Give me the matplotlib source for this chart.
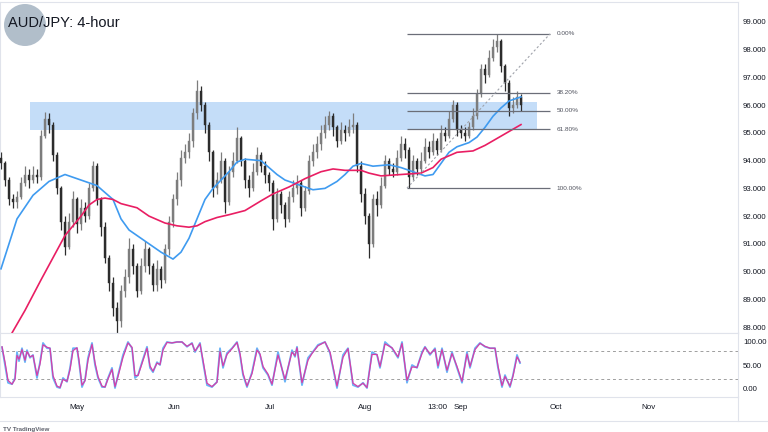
import numpy as np
import matplotlib
matplotlib.use("Agg")
import matplotlib.pyplot as plt
from matplotlib.patches import Rectangle, Ellipse
from matplotlib.lines import Line2D

plt.rcParams['font.family'] = ['Liberation Sans', 'DejaVu Sans']

# ---------------- data ----------------
opens = [94.1, 93.9, 93.3, 92.6, 92.5, 92.7, 93.2, 93.5, 93.3, 93.5,
         93.4, 94.9, 95.5, 95.3, 94.2, 93.0, 91.8, 90.9, 91.8, 92.6,
         91.7, 92.3, 92.0, 93.0, 93.8, 92.6, 91.6, 90.5, 89.6, 88.7,
         88.2, 89.3, 89.8, 90.8, 90.2, 89.3, 90.2, 90.8, 90.2, 89.5,
         90.1, 89.7, 90.8, 91.8, 92.6, 93.3, 94.1, 94.3, 94.7, 95.7,
         96.5, 96.0, 95.3, 94.3, 93.0, 93.3, 94.0, 92.5, 93.6, 94.0,
         94.8, 94.0, 93.3, 93.0, 93.6, 94.2, 93.8, 93.5, 93.2, 91.9,
         92.8, 92.4, 91.9, 92.7, 93.0, 93.2, 92.3, 92.9, 94.0, 94.3,
         94.6, 95.0, 95.3, 95.6, 95.2, 94.7, 95.1, 95.0, 95.2, 95.3,
         93.8, 92.8, 92.0, 91.0, 92.6, 92.4, 93.1, 94.0, 93.7, 93.6,
         94.1, 94.6, 94.4, 93.4, 94.0, 93.7, 94.0, 94.5, 94.3, 94.7,
         94.4, 95.0, 94.9, 95.5, 96.0, 95.1, 95.0, 94.9, 95.2, 95.6,
         96.4, 97.3, 97.1, 97.7, 98.1, 98.3, 97.4, 96.8, 95.9, 96.0,
         96.3]
highs = [94.3, 94.0, 93.4, 92.8, 92.9, 93.4, 93.8, 93.7, 93.8, 93.7,
         95.1, 95.75, 95.7, 95.4, 94.3, 93.1, 92.0, 92.1, 92.9, 92.7,
         92.6, 92.5, 93.2, 94.0, 93.9, 92.7, 91.8, 90.6, 89.8, 88.9,
         89.5, 90.1, 91.2, 91.0, 90.3, 90.5, 91.1, 90.9, 90.3, 90.4,
         90.2, 91.0, 92.0, 92.8, 93.6, 94.4, 94.6, 95.0, 95.9, 96.9,
         96.7, 96.1, 95.4, 94.4, 93.6, 94.3, 94.1, 93.8, 94.3, 95.2,
         94.9, 94.1, 93.5, 93.9, 94.5, 94.3, 94.0, 93.6, 93.3, 93.0,
         92.9, 92.5, 92.9, 93.3, 93.5, 93.3, 93.1, 94.2, 94.6, 94.9,
         95.3, 95.6, 95.8, 95.7, 95.3, 95.4, 95.3, 95.5, 95.7, 95.4,
         94.0, 93.0, 92.1, 92.8, 92.9, 93.4, 94.2, 94.1, 93.9, 94.4,
         94.9, 94.8, 94.5, 94.2, 94.1, 94.3, 94.8, 94.7, 95.0, 94.8,
         95.3, 95.2, 95.8, 96.2, 96.1, 95.3, 95.2, 95.4, 95.9, 96.6,
         97.5, 97.5, 98.0, 98.4, 98.57, 98.4, 97.5, 96.9, 96.3, 96.5,
         96.4]
lows = [93.7, 93.1, 92.4, 92.3, 92.3, 92.6, 93.1, 93.0, 93.2, 93.2,
        93.3, 94.8, 95.0, 94.0, 92.8, 91.5, 90.6, 90.8, 91.6, 91.4,
        91.5, 91.8, 91.9, 92.9, 92.4, 91.3, 90.3, 89.3, 88.4, 87.8,
        88.0, 89.1, 89.6, 89.9, 89.1, 89.2, 90.0, 89.9, 89.3, 89.3,
        89.4, 89.6, 90.6, 91.6, 92.4, 93.1, 93.9, 94.1, 94.5, 95.5,
        95.8, 95.0, 94.0, 92.7, 92.8, 93.2, 92.1, 92.4, 93.4, 93.9,
        93.8, 93.0, 92.7, 92.9, 93.5, 93.6, 93.2, 92.9, 91.5, 91.8,
        92.1, 91.6, 91.8, 92.5, 92.8, 92.0, 92.2, 92.8, 93.8, 94.1,
        94.4, 94.8, 95.1, 94.9, 94.5, 94.6, 94.7, 94.9, 95.0, 93.6,
        92.5, 91.7, 90.5, 90.9, 92.0, 92.3, 93.0, 93.5, 93.4, 93.5,
        94.0, 94.1, 93.01, 93.3, 93.5, 93.6, 93.9, 94.1, 94.2, 94.2,
        94.3, 94.7, 94.8, 95.4, 94.9, 94.8, 94.7, 94.8, 95.1, 95.5,
        96.3, 96.8, 97.0, 97.6, 97.9, 97.2, 96.5, 95.6, 95.7, 95.9,
        95.8]
closes = [93.9, 93.3, 92.6, 92.5, 92.7, 93.2, 93.5, 93.3, 93.5, 93.4,
          94.9, 95.5, 95.3, 94.2, 93.0, 91.8, 90.9, 91.8, 92.6, 91.7,
          92.3, 92.0, 93.0, 93.8, 92.6, 91.6, 90.5, 89.6, 88.7, 88.2,
          89.3, 89.8, 90.8, 90.2, 89.3, 90.2, 90.8, 90.2, 89.5, 90.1,
          89.7, 90.8, 91.8, 92.6, 93.3, 94.1, 94.3, 94.7, 95.7, 96.5,
          96.0, 95.3, 94.3, 93.0, 93.3, 94.0, 92.5, 93.6, 94.0, 94.8,
          94.0, 93.3, 93.0, 93.6, 94.2, 93.8, 93.5, 93.2, 91.9, 92.8,
          92.4, 91.9, 92.7, 93.0, 93.2, 92.3, 92.9, 94.0, 94.3, 94.6,
          95.0, 95.3, 95.6, 95.2, 94.7, 95.1, 95.0, 95.2, 95.3, 93.8,
          92.8, 92.0, 91.0, 92.6, 92.4, 93.1, 94.0, 93.7, 93.6, 94.1,
          94.6, 94.4, 93.4, 94.0, 93.7, 94.0, 94.5, 94.3, 94.7, 94.4,
          95.0, 94.9, 95.5, 96.0, 95.1, 95.0, 94.9, 95.2, 95.6, 96.4,
          97.3, 97.1, 97.7, 98.1, 98.3, 97.4, 96.8, 95.9, 96.0, 96.3,
          96.0]

ma_fast_bar = [0, 4, 8, 12, 16, 20, 24, 28, 30, 32, 36, 40, 43, 45, 47, 49, 51, 53,
               55, 57, 59, 61, 65, 67, 69, 71, 74, 78, 81, 84, 86, 88, 90, 93, 97,
               100, 103, 106, 108, 110, 112, 114, 117, 119, 121, 123, 125, 127, 130]
ma_fast = [90.1, 91.9, 92.75, 93.25, 93.5, 93.3, 93.1, 92.6, 91.9, 91.5, 91.1, 90.7,
           90.45, 90.7, 91.2, 91.9, 92.6, 93.0, 93.3, 93.6, 93.95, 94.05, 94.0, 93.75,
           93.5, 93.3, 93.15, 92.95, 93.0, 93.25, 93.5, 93.8, 93.9, 93.8, 93.85, 93.75,
           93.6, 93.45, 93.5, 93.9, 94.3, 94.5, 94.65, 94.85, 95.2, 95.6, 95.9, 96.15, 96.3]

ma_slow_bar = [2, 6, 10, 13, 16, 20, 22, 24, 26, 28, 30, 34, 37, 41, 44, 47, 49, 51, 54,
               57, 61, 65, 68, 72, 76, 80, 83, 86, 90, 92, 95, 100, 105, 108, 110, 114,
               118, 121, 124, 127, 130]
ma_slow = [87.6, 88.6, 89.7, 90.5, 91.3, 92.0, 92.4, 92.6, 92.65, 92.6, 92.45, 92.3,
           92.0, 91.75, 91.65, 91.6, 91.65, 91.8, 91.95, 92.05, 92.2, 92.55, 92.8, 93.05,
           93.35, 93.6, 93.7, 93.65, 93.65, 93.55, 93.45, 93.5, 93.55, 93.75, 94.05,
           94.3, 94.35, 94.55, 94.8, 95.05, 95.3]

stoch_bar = [0.25, 1, 1.75, 2.75, 3.5, 4, 4.5, 5.25, 6, 6.5,
             7.25, 8, 9, 9.75, 10.5, 11.5, 12.25, 13, 14, 14.75,
             15.5, 16.5, 17.25, 18, 19, 19.5, 20.25, 21, 21.75, 22.75,
             23.5, 24.25, 25.25, 26, 26.75, 27.75, 28.5, 29.25, 30.5, 31.75,
             32.75, 33.5, 34.25, 35.25, 36.5, 37.25, 38, 39, 39.75, 40.5,
             41.5, 42.75, 44, 45.25, 46.5, 47.75, 48.5, 49.75, 50.5, 51.5,
             52.75, 54, 54.75, 55.5, 56.5, 57.75, 59, 59.75, 60.5, 61.5,
             62.75, 64, 64.75, 65.5, 66.75, 67.75, 69.25, 71, 72.75, 73.5,
             74, 75.25, 76.75, 77.75, 79.25, 81, 82.25, 84, 85.5, 86.75,
             88, 89.25, 90.5, 91.5, 92.75, 94, 94.75, 96, 97.75, 99.25,
             100.25, 101.5, 102.75, 104, 105.25, 106, 107.25, 108.5, 109.25, 110.25,
             111.5, 112.75, 114, 115.25, 116.5, 117.25, 118.5, 119.75, 121, 122.25,
             123.5, 124.25, 125.25, 126, 127.25, 128, 129, 129.75]
stoch_k = [87, 50, 13, 10, 23, 77, 58, 85, 56, 81,
           65, 71, 23, 56, 96, 85, 85, 23, 4, 2,
           23, 15, 44, 85, 85, 56, 4, 19, 65, 96,
           50, 23, 4, 4, 23, 44, 2, 29, 71, 98,
           85, 23, 29, 56, 88, 44, 35, 56, 50, 85,
           98, 96, 98, 98, 88, 96, 77, 96, 56, 8,
           4, 15, 85, 44, 75, 85, 98, 71, 29, 4,
           35, 85, 71, 44, 29, 8, 77, 15, 81, 67,
           88, 8, 65, 75, 92, 98, 75, 2, 71, 85,
           8, 4, 13, 2, 77, 71, 44, 98, 85, 65,
           98, 13, 50, 44, 77, 88, 71, 85, 44, 85,
           35, 77, 44, 13, 77, 44, 85, 96, 88, 85,
           85, 44, 4, 29, 4, 29, 71, 54]
stoch_d = [88, 56, 18, 10, 20, 70, 62, 82, 60, 78,
           67, 70, 28, 52, 92, 87, 85, 28, 6, 3,
           20, 16, 40, 80, 86, 60, 8, 17, 60, 93,
           55, 26, 6, 4, 21, 41, 5, 26, 66, 96,
           87, 28, 28, 53, 85, 48, 37, 54, 51, 81,
           97, 96, 98, 98, 89, 95, 79, 94, 60, 12,
           5, 14, 78, 48, 72, 84, 97, 74, 33, 6,
           32, 81, 73, 47, 31, 10, 71, 20, 77, 69,
           86, 13, 60, 74, 90, 98, 77, 6, 66, 84,
           12, 5, 12, 3, 72, 72, 47, 94, 86, 67,
           95, 18, 46, 45, 74, 87, 73, 83, 48, 82,
           39, 74, 47, 16, 73, 47, 82, 95, 89, 85,
           85, 48, 7, 26, 6, 27, 67, 56]

price_ticks = [88, 89, 90, 91, 92, 93, 94, 95, 96, 97, 98, 99]
stoch_ticks = [0, 50, 100]
time_labels = ['May', 'Jun', 'Jul', 'Aug', '13:00', 'Sep', 'Oct', 'Nov']
time_pos = [19, 43.25, 67.25, 91, 109, 115, 138.75, 161.75]

zone_low, zone_high = 95.1, 96.12
zone_start, zone_end = 7.25, 134
fib_low, fib_high = 93.01, 98.57
fib_start, fib_end = 101.5, 137.25
fib_levels = [0.0, 0.382, 0.5, 0.618, 1.0]
fib_labels = ['0.00%', '38.20%', '50.00%', '61.80%', '100.00%']

# ---------------- figure ----------------
W, H = 768, 432
fig = plt.figure(figsize=(W / 100, H / 100), dpi=100)
fig.patch.set_facecolor('white')


def fx(px):
    return px / W


def fy(py):
    return 1 - py / H


grid_c = '#e0e3eb'
text_c = '#131722'

ax = fig.add_axes([0, fy(333), fx(738), (333 - 2) / H])
axs = fig.add_axes([0, fy(397), fx(738), (397 - 333) / H])

for a in (ax, axs):
    a.set_xlim(-0.25, 184.25)
    for s in a.spines.values():
        s.set_color(grid_c)
        s.set_linewidth(0.8)
    a.set_facecolor('white')

ax.set_ylim(87.785, 99.72)
axs.set_ylim(-16.7, 116.7)

# support/resistance zone
ax.add_patch(Rectangle((zone_start, zone_low), zone_end - zone_start,
                       zone_high - zone_low, facecolor='#c4ddf8',
                       edgecolor='none', zorder=0))

# candles
o = np.array(opens); hgh = np.array(highs); lw_ = np.array(lows); c = np.array(closes)
x = np.arange(len(c))
up = c >= o
col = np.where(up, '#7d7d7d', '#2c2c2c')
ax.vlines(x, lw_, hgh, colors=col, linewidth=0.9, zorder=2)
body_h = np.maximum(np.abs(c - o), 0.03)
ax.bar(x, body_h, bottom=np.minimum(o, c), width=0.5, color=col,
       edgecolor=col, linewidth=0.3, zorder=3)

# moving averages
ax.plot(ma_fast_bar, ma_fast, color='#3f9bf0', lw=1.2, zorder=4,
        solid_joinstyle='round')
ax.plot(ma_slow_bar, ma_slow, color='#e91e63', lw=1.2, zorder=4,
        solid_joinstyle='round')

# fibonacci retracement
rng = fib_high - fib_low
for lvl, lab in zip(fib_levels, fib_labels):
    p = fib_high - lvl * rng
    ax.hlines(p, fib_start, fib_end, color='#6b6e78', lw=0.9, zorder=5)
    ax.text(fib_end + 1.6, p, lab, fontsize=4.6, va='center', ha='left',
            color='#50535e', zorder=6)
ax.plot([fib_start, fib_end], [fib_low, fib_high], color='#a0a3ab', lw=0.8,
        ls=(0, (2, 2)), zorder=5)

# price axis
ax.yaxis.tick_right()
ax.set_yticks(price_ticks)
ax.set_yticklabels([f'{v:.3f}' for v in price_ticks])
ax.tick_params(axis='y', length=0, pad=3.6, labelsize=5.6, labelcolor=text_c)
ax.set_xticks([])

# stochastic
axs.axhline(80, color='#9e9e9e', lw=0.7, ls=(0, (3, 3)))
axs.axhline(20, color='#9e9e9e', lw=0.7, ls=(0, (3, 3)))
axs.plot(stoch_bar, stoch_k, color='#6ab4f7', lw=1.3)
axs.plot(stoch_bar, stoch_d, color='#d63ea8', lw=0.9)
axs.yaxis.tick_right()
axs.set_yticks(stoch_ticks)
axs.set_yticklabels([f'{v:.2f}' for v in stoch_ticks])
axs.tick_params(axis='y', length=0, pad=3.6, labelsize=5.6, labelcolor=text_c)
axs.set_xticks(time_pos)
axs.set_xticklabels(time_labels)
axs.tick_params(axis='x', length=0, pad=5.0, labelsize=5.8, labelcolor=text_c)

# frame lines
fig.add_artist(Line2D([0, 1], [fy(421), fy(421)], color=grid_c, lw=0.8))
fig.add_artist(Line2D([fx(738), fx(738)], [fy(397), fy(421)], color=grid_c, lw=0.8))

# logo circle + title
fig.add_artist(Ellipse((fx(25), fy(25)), 42 / W, 42 / H, transform=fig.transFigure,
                       facecolor='#a9b7c5', edgecolor='none', alpha=0.9, zorder=1))
fig.text(fx(8), fy(23), 'AUD/JPY: 4-hour', fontsize=10.5, va='center', ha='left',
         color=text_c, zorder=2)
fig.text(fx(3), fy(429), 'TV TradingView', fontsize=4.5, va='center', ha='left',
         color='#5d606b', fontweight='bold')

fig.savefig('out.png', dpi=100)
